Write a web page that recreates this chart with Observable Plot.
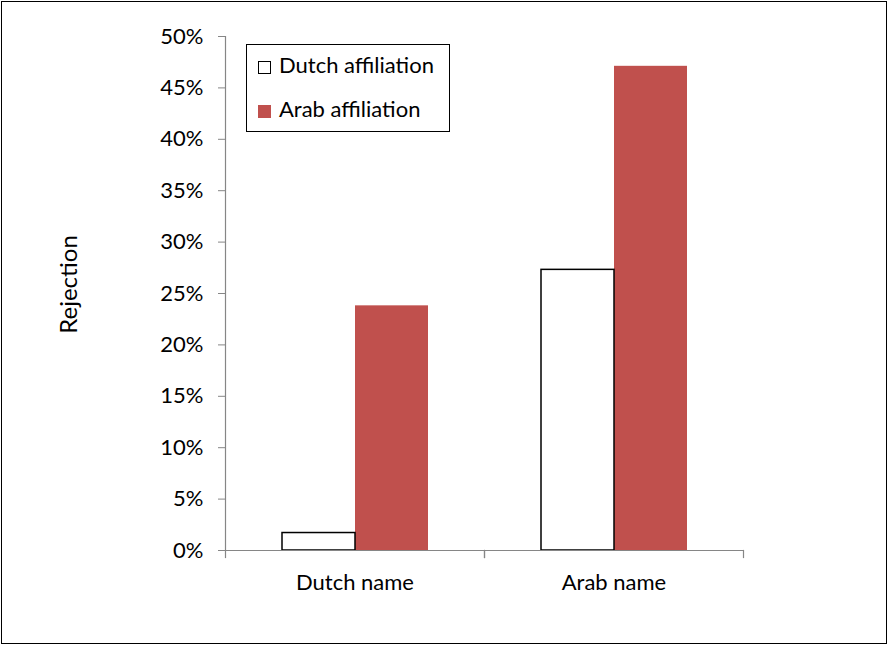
<!DOCTYPE html>
<html><head><meta charset="utf-8">
<script src="https://cdn.jsdelivr.net/npm/d3@7"></script>
<script src="https://cdn.jsdelivr.net/npm/@observablehq/plot@0.6"></script>
<style>
body{margin:0;background:#fff;}
#wrap{position:relative;width:888px;height:645px;}
#border{position:absolute;left:1px;top:1px;width:884px;height:641px;border:1px solid #000;pointer-events:none;}
#legend{position:absolute;left:246px;top:44px;width:202px;height:86px;border:1.5px solid #000;font-family:Lato, sans-serif;font-size:22px;color:#000;background:#fff;}
.sw{position:absolute;left:11px;width:13px;height:13px;box-sizing:border-box;}
.tx{position:absolute;left:32px;line-height:1;white-space:nowrap;}
</style></head>
<body>
<div id="wrap">
  <div id="chart"></div>
  <div id="legend"></div>
  <div id="border"></div>
</div>
<script>
const categories = ["Dutch name", "Arab name"];
const series = ["Dutch affiliation", "Arab affiliation"];
const dutchAffiliation = [0.017, 0.273];
const arabAffiliation = [0.238, 0.471];
const yTicks = [0, 0.05, 0.10, 0.15, 0.20, 0.25, 0.30, 0.35, 0.40, 0.45, 0.50];
const yLabel = "Rejection";
const seriesFill = ["#ffffff", "#c0504d"];

const rows = categories.flatMap((c, i) => [
  {name: c, aff: series[0], value: dutchAffiliation[i]},
  {name: c, aff: series[1], value: arabAffiliation[i]}
]);

const axisGray = "#868686";

const chart = Plot.plot({
  width: 888, height: 645,
  marginLeft: 224, marginRight: 145, marginTop: 36, marginBottom: 95,
  style: {fontFamily: "Lato, sans-serif", fontSize: "22px", color: "#000", background: "transparent", overflow: "visible"},
  fx: {domain: categories, padding: 0, label: null},
  x: {domain: series, paddingInner: 0, paddingOuter: 0.753, axis: null},
  y: {domain: [0, 0.5], label: null},
  marks: [
    Plot.barY(rows.filter(d => d.aff === series[1]), {fx: "name", x: "aff", y: "value", fill: seriesFill[1]}),
    Plot.barY(rows.filter(d => d.aff === series[0]), {fx: "name", x: "aff", y: "value", fill: seriesFill[0], stroke: "#000", strokeWidth: 1.5}),
    Plot.ruleY([0], {stroke: axisGray, strokeWidth: 1.2}),
    Plot.frame({anchor: "left", facetAnchor: "left", stroke: axisGray, strokeWidth: 1.2}),
    Plot.frame({anchor: "left", insetTop: 514, insetBottom: -7, stroke: axisGray, strokeWidth: 1.2}),
    Plot.frame({anchor: "right", insetTop: 514, insetBottom: -7, stroke: axisGray, strokeWidth: 1.2}),
    Plot.axisY({ticks: yTicks, tickFormat: d3.format(".0%"), tickSize: 7, tickPadding: 15, stroke: axisGray, fill: "#000", fontSize: 22, label: null}),
    Plot.axisFx({anchor: "bottom", tickSize: 0, tickPadding: 24, fontSize: 22, fill: "#000", label: null}),
    Plot.text([{name: categories[0], t: yLabel}], {fx: "name", text: "t", frameAnchor: "left", textAnchor: "middle", rotate: -90, dx: -156, dy: -9, fontSize: 24, fill: "#000"})
  ]
});
document.getElementById("chart").appendChild(chart);

const legend = document.getElementById("legend");
series.forEach((s, i) => {
  const sw = document.createElement("div");
  sw.className = "sw";
  sw.style.top = (15.5 + 44 * i) + "px";
  sw.style.background = seriesFill[i];
  sw.style.border = i === 0 ? "1.3px solid #000" : "none";
  const tx = document.createElement("div");
  tx.className = "tx";
  tx.style.top = (9.3 + 44 * i) + "px";
  tx.textContent = s;
  legend.appendChild(sw);
  legend.appendChild(tx);
});
</script>
</body></html>
